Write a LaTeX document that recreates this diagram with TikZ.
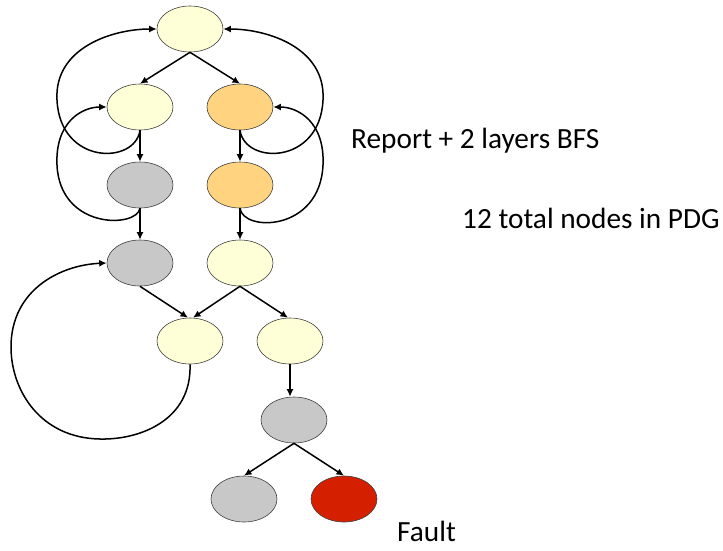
\documentclass[tikz,border=0pt]{standalone}
\usepackage{fontspec}
\setmainfont{Carlito}
\usetikzlibrary{shapes.geometric,arrows.meta}

\definecolor{cream}{RGB}{255,255,215}
\definecolor{amber}{RGB}{255,211,128}
\definecolor{stone}{RGB}{200,200,200}
\definecolor{fire}{RGB}{213,32,0}

\tikzset{
  pdg/.style={ellipse, draw=black!75, line width=0.6pt, minimum width=66pt,
              minimum height=46pt, inner sep=0pt},
  flow/.style={line width=1.5pt, -{Latex[length=7.5pt,width=7pt]}},
  caption/.style={anchor=base west, inner sep=0pt, font=\fontsize{29.3}{35}\selectfont}
}

\begin{document}
\begin{tikzpicture}[x=1pt, y=-1pt]
  \useasboundingbox (0,0) rectangle (723,550);

  % graph nodes
  \node[pdg, fill=cream] (top) at (190,29) {};
  \node[pdg, fill=cream] (aL) at (140,107) {};
  \node[pdg, fill=amber] (aR) at (240,107) {};
  \node[pdg, fill=stone] (bL) at (140,185) {};
  \node[pdg, fill=amber] (bR) at (240,185) {};
  \node[pdg, fill=stone] (cL) at (140,263) {};
  \node[pdg, fill=cream] (cR) at (240,263) {};
  \node[pdg, fill=cream] (dL) at (190,341) {};
  \node[pdg, fill=cream] (dR) at (290,341) {};
  \node[pdg, fill=stone] (e)  at (294,420) {};
  \node[pdg, fill=stone] (fL) at (244,499) {};
  \node[pdg, fill=fire]  (fR) at (344,499) {};

  % forward edges
  \draw[flow] (top.south) -- (aL.north);
  \draw[flow] (top.south) -- (aR.north);
  \draw[flow] (aL.south) -- (bL.north);
  \draw[flow] (aR.south) -- (bR.north);
  \draw[flow] (bL.south) -- (cL.north);
  \draw[flow] (bR.south) -- (cR.north);
  \draw[flow] (cL.south) -- ([xshift=-2pt]dL.north);
  \draw[flow] (cR.south) -- ([xshift=3pt]dL.north);
  \draw[flow] (cR.south) -- ([xshift=-2pt]dR.north);
  \draw[flow] (dR.south) -- (dR.south |- e.north);
  \draw[flow] (e.south) -- (fL.north);
  \draw[flow] (e.south) -- (fR.north);

  % back edges
  \draw[flow] (aL.south) .. controls (135,165) and (60,165) .. (57,100)
              .. controls (54,48) and (112,29) .. (top.west);
  \draw[flow] (aR.south) .. controls (245,165) and (320,165) .. (323,100)
              .. controls (326,48) and (268,29) .. (top.east);
  \draw[flow] (bL.south) .. controls (137,228) and (60,230) .. (57,165)
              .. controls (55,122) and (82,107) .. (aL.west);
  \draw[flow] (bR.south) .. controls (243,232) and (320,232) .. (323,165)
              .. controls (325,122) and (298,107) .. (aR.east);
  \draw[flow] (dL.south) .. controls (192,420) and (140,440) .. (100,439)
              .. controls (40,438) and (11,390) .. (11,347)
              .. controls (11,290) and (60,265) .. (cL.west);

  % captions
  \node[caption] (rep) at (351,148) {Report + 2 layers BFS};
  \node[caption] (tot) at (462,228) {12 total nodes in PDG};
  \node[caption] (flt) at (397,541) {Fault};
\end{tikzpicture}
\end{document}
